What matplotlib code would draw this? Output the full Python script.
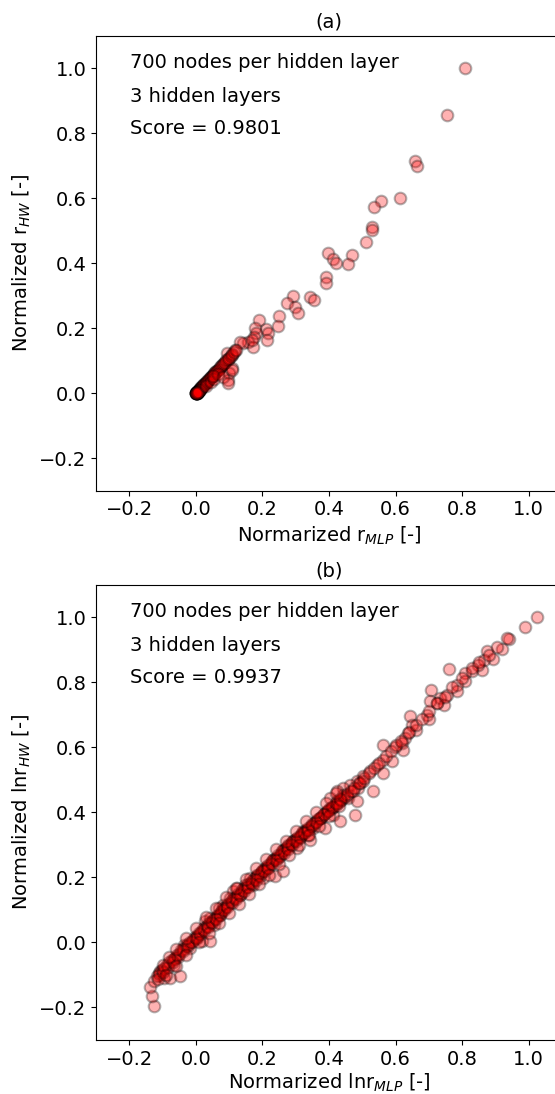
import matplotlib
matplotlib.use("Agg")
import matplotlib.pyplot as plt

# (a) normalized r : MLP prediction vs HW reference
r_mlp = [0.810, 0.754, 0.659, 0.664, 0.614, 0.556, 0.535, 0.528, 0.530, 0.510,
         0.470, 0.458, 0.398, 0.413, 0.421, 0.391, 0.391, 0.343, 0.356, 0.291,
         0.273, 0.298, 0.308, 0.250, 0.248, 0.211, 0.190, 0.178, 0.181, 0.175,
         0.158, 0.143, 0.133, 0.173, 0.118, 0.108, 0.093, 0.098, 0.108, 0.101,
         0.098,
         0.000, 0.001, 0.002, 0.002, 0.003, 0.004, 0.004, 0.005, 0.006, 0.007,
         0.008, 0.009, 0.010, 0.011, 0.012, 0.013, 0.014, 0.015, 0.016, 0.018,
         0.019, 0.020, 0.022, 0.024, 0.025, 0.027, 0.029, 0.030, 0.032, 0.034,
         0.036, 0.038, 0.040, 0.042, 0.044, 0.046, 0.048, 0.050, 0.053, 0.055,
         0.058, 0.060, 0.063, 0.066, 0.069, 0.072, 0.075, 0.078, 0.082, 0.085,
         0.088, 0.092, 0.096, 0.100, 0.105, 0.110, 0.115, 0.120,
         0.001, 0.003, 0.000, 0.005, 0.002, 0.006, 0.004, 0.008, 0.010, 0.012,
         0.001, 0.002, 0.003, 0.000, 0.004, 0.003, 0.001, 0.005,
         0.030, 0.045, 0.055, 0.065, 0.050, 0.083, 0.098, 0.108, 0.218, 0.213,
         0.168]
r_hw = [1.000, 0.857, 0.716, 0.699, 0.600, 0.593, 0.572, 0.511, 0.502, 0.466,
        0.425, 0.398, 0.431, 0.413, 0.400, 0.357, 0.338, 0.297, 0.287, 0.300,
        0.277, 0.266, 0.248, 0.238, 0.207, 0.197, 0.225, 0.200, 0.186, 0.174,
        0.159, 0.154, 0.159, 0.143, 0.133, 0.118, 0.123, 0.102, 0.077, 0.062,
        0.041,
        0.000, 0.002, 0.001, 0.003, 0.003, 0.005, 0.004, 0.006, 0.006, 0.008,
        0.009, 0.010, 0.011, 0.013, 0.013, 0.015, 0.015, 0.017, 0.018, 0.020,
        0.021, 0.023, 0.024, 0.027, 0.028, 0.030, 0.032, 0.034, 0.035, 0.038,
        0.040, 0.042, 0.045, 0.046, 0.049, 0.051, 0.053, 0.056, 0.058, 0.061,
        0.064, 0.067, 0.069, 0.073, 0.076, 0.080, 0.083, 0.086, 0.090, 0.094,
        0.097, 0.101, 0.106, 0.110, 0.116, 0.121, 0.127, 0.132,
        0.000, 0.001, 0.002, 0.003, 0.000, 0.004, 0.001, 0.006, 0.008, 0.010,
        0.001, 0.000, 0.002, 0.001, 0.003, 0.000, 0.002, 0.004,
        0.022, 0.036, 0.045, 0.058, 0.052, 0.051, 0.031, 0.072, 0.185, 0.164,
        0.164]

# (b) normalized lnr : MLP prediction vs HW reference
lnr_mlp = [1.024, 0.989, 0.941, 0.919, 0.874, 0.892, 0.866, 0.861, 0.849, 0.829,
           0.809, 0.809, 0.784, 0.784, 0.762, 0.754, 0.734, 0.724, 0.744, 0.706,
           0.704, 0.694, 0.699, 0.644, 0.662, 0.649, 0.638, 0.629, 0.619, 0.623,
           0.563, 0.599, 0.589, 0.563, 0.544, 0.563, 0.533, 0.523, 0.503, 0.483,
           0.463, 0.443, 0.423, 0.403, 0.488, 0.453, 0.433,
           -0.127, -0.132, -0.137, -0.107, -0.097, -0.077, -0.112, -0.047, -0.062, -0.067,
           -0.037, -0.017, 0.003, 0.018, 0.043, 0.028, 0.043, 0.053, 0.073, 0.068,
           0.083, 0.103, 0.113, 0.123, 0.133, 0.148, 0.163, 0.173, 0.183, 0.198,
           0.213, 0.203, 0.238, 0.263, 0.233, 0.248, 0.263, 0.278, 0.293, 0.303,
           0.313, 0.323, 0.338, 0.343, 0.353, 0.373, 0.388, 0.403, 0.413, 0.433,
           0.423, 0.443, 0.458, 0.473, 0.483, 0.493, 0.503, 0.478,
           -0.125, -0.118, -0.110, -0.102, -0.095, -0.088, -0.080, -0.072, -0.065, -0.058,
           -0.050, -0.044, -0.038, -0.030, -0.024, -0.018, -0.010, -0.004, 0.002, 0.008,
           0.014, 0.020, 0.026, 0.032, 0.038, 0.045, 0.050, 0.056, 0.062, 0.068,
           0.075, 0.080, 0.086, 0.092, 0.098, 0.105, 0.110, 0.116, 0.122, 0.128,
           0.135, 0.140, 0.146, 0.152, 0.158, 0.165, 0.170, 0.176, 0.182, 0.188,
           0.195, 0.200, 0.206, 0.212, 0.218, 0.225, 0.230, 0.236, 0.242, 0.248,
           0.255, 0.260, 0.266, 0.272, 0.278, 0.285, 0.290, 0.296, 0.302, 0.308,
           0.315, 0.320, 0.326, 0.332, 0.338, 0.345, 0.350, 0.356, 0.362, 0.368,
           0.375, 0.380, 0.386, 0.392, 0.398, 0.405, 0.412, 0.420, 0.428, 0.436,
           0.445, 0.455, 0.465, 0.475, 0.490, 0.505, 0.520, 0.535, 0.550, 0.570,
           0.585, 0.600, 0.615, 0.640, 0.660, 0.680, 0.700, 0.725, 0.750, 0.770,
           0.800, 0.830, 0.850, 0.880, 0.905, 0.935,
           -0.115, -0.100, -0.085, -0.070, -0.055, -0.040, -0.025, -0.012, 0.000, 0.012,
           0.025, 0.035, 0.048, 0.060, 0.072, 0.084, 0.095, 0.108, 0.120, 0.132,
           0.145, 0.157, 0.168, 0.180, 0.192, 0.204, 0.216, 0.228, 0.240, 0.252,
           0.264, 0.276, 0.288, 0.300, 0.312, 0.324, 0.336, 0.348, 0.360, 0.372,
           0.384, 0.396, 0.408, 0.420, 0.432,
           -0.100, -0.080, -0.060, -0.030, 0.000, 0.030, 0.060, 0.090, 0.120, 0.150,
           0.180, 0.210, 0.240, 0.270, 0.300, 0.330, 0.360, 0.390, 0.420,
           -0.090, -0.060, -0.030, 0.010, 0.040, 0.070, 0.100, 0.130, 0.160, 0.190,
           0.220, 0.250, 0.280, 0.310, 0.340, 0.370, 0.400, 0.430]
lnr_hw = [1.000, 0.969, 0.934, 0.903, 0.895, 0.873, 0.870, 0.839, 0.854, 0.834,
          0.829, 0.803, 0.793, 0.772, 0.841, 0.762, 0.752, 0.736, 0.729, 0.777,
          0.742, 0.700, 0.688, 0.698, 0.654, 0.670, 0.644, 0.629, 0.613, 0.593,
          0.608, 0.600, 0.557, 0.562, 0.546, 0.521, 0.466, 0.526, 0.511, 0.495,
          0.485, 0.475, 0.465, 0.444, 0.475, 0.449, 0.434,
          -0.197, -0.166, -0.138, -0.089, -0.110, -0.110, -0.100, -0.105, -0.048, -0.069,
          -0.007, -0.018, 0.013, 0.003, 0.003, 0.065, 0.075, 0.054, 0.085, 0.106,
          0.116, 0.136, 0.157, 0.167, 0.146, 0.177, 0.198, 0.177, 0.208, 0.218,
          0.229, 0.198, 0.203, 0.218, 0.254, 0.259, 0.285, 0.300, 0.311, 0.290,
          0.321, 0.342, 0.331, 0.316, 0.352, 0.382, 0.352, 0.414, 0.393, 0.372,
          0.434, 0.454, 0.444, 0.465, 0.434, 0.490, 0.495, 0.393,
          -0.120, -0.105, -0.095, -0.085, -0.080, -0.070, -0.062, -0.055, -0.050, -0.040,
          -0.035, -0.025, -0.020, -0.012, -0.005, 0.002, 0.008, 0.015, 0.020, 0.028,
          0.033, 0.040, 0.046, 0.050, 0.058, 0.063, 0.070, 0.076, 0.081, 0.088,
          0.093, 0.100, 0.106, 0.112, 0.117, 0.124, 0.130, 0.136, 0.141, 0.148,
          0.153, 0.160, 0.166, 0.171, 0.178, 0.183, 0.190, 0.196, 0.201, 0.208,
          0.213, 0.220, 0.226, 0.231, 0.238, 0.243, 0.250, 0.256, 0.261, 0.268,
          0.273, 0.280, 0.285, 0.291, 0.297, 0.302, 0.308, 0.314, 0.319, 0.325,
          0.330, 0.336, 0.341, 0.347, 0.352, 0.357, 0.363, 0.368, 0.373, 0.379,
          0.384, 0.390, 0.395, 0.400, 0.406, 0.411, 0.417, 0.424, 0.430, 0.438,
          0.446, 0.455, 0.466, 0.476, 0.491, 0.505, 0.522, 0.536, 0.551, 0.574,
          0.588, 0.608, 0.620, 0.648, 0.668, 0.688, 0.712, 0.735, 0.756, 0.785,
          0.812, 0.843, 0.862, 0.885, 0.910, 0.936,
          -0.112, -0.092, -0.075, -0.060, -0.045, -0.028, -0.012, 0.000, 0.012, 0.025,
          0.038, 0.048, 0.060, 0.072, 0.085, 0.098, 0.108, 0.120, 0.133, 0.145,
          0.158, 0.170, 0.181, 0.193, 0.205, 0.218, 0.229, 0.241, 0.253, 0.265,
          0.276, 0.288, 0.300, 0.312, 0.324, 0.336, 0.347, 0.359, 0.371, 0.383,
          0.394, 0.405, 0.417, 0.428, 0.440,
          -0.070, -0.045, -0.020, 0.012, 0.045, 0.078, 0.105, 0.138, 0.168, 0.196,
          0.228, 0.255, 0.286, 0.313, 0.342, 0.372, 0.400, 0.428, 0.458,
          -0.102, -0.072, -0.040, 0.000, 0.028, 0.058, 0.090, 0.118, 0.150, 0.178,
          0.208, 0.240, 0.268, 0.298, 0.330, 0.358, 0.388, 0.418]

panels = [
    ("(a)", r_mlp, r_hw, r"Normarized r$_{MLP}$ [-]", r"Normalized r$_{HW}$ [-]", "Score = 0.9801"),
    ("(b)", lnr_mlp, lnr_hw, r"Normarized lnr$_{MLP}$ [-]", r"Normalized lnr$_{HW}$ [-]", "Score = 0.9937"),
]
ticks = [-0.2, 0.0, 0.2, 0.4, 0.6, 0.8, 1.0]

plt.rcParams["font.size"] = 14
fig = plt.figure(figsize=(5.55, 10.94), dpi=100)
bottoms = [0.5514, 0.0495]
labelpads = [4.0, 2.0]

for (title, xs, ys, xlab, ylab, score), b, lp in zip(panels, bottoms, labelpads):
    ax = fig.add_axes([0.173, b, 0.8396, 0.4159])
    ax.scatter(xs, ys, s=70, c="red", edgecolors="black", linewidths=1.5, alpha=0.3)
    ax.set_xlim(-0.3, 1.1)
    ax.set_ylim(-0.3, 1.1)
    ax.set_xticks(ticks)
    ax.set_yticks(ticks)
    ax.set_xlabel(xlab, fontsize=14, labelpad=lp)
    ax.set_ylabel(ylab, fontsize=14)
    ax.set_title(title, fontsize=14)
    ax.text(0.073, 0.929, "700 nodes per hidden layer", transform=ax.transAxes, fontsize=14)
    ax.text(0.073, 0.855, "3 hidden layers", transform=ax.transAxes, fontsize=14)
    ax.text(0.073, 0.784, score, transform=ax.transAxes, fontsize=14)

fig.savefig("out.png", dpi=100)
